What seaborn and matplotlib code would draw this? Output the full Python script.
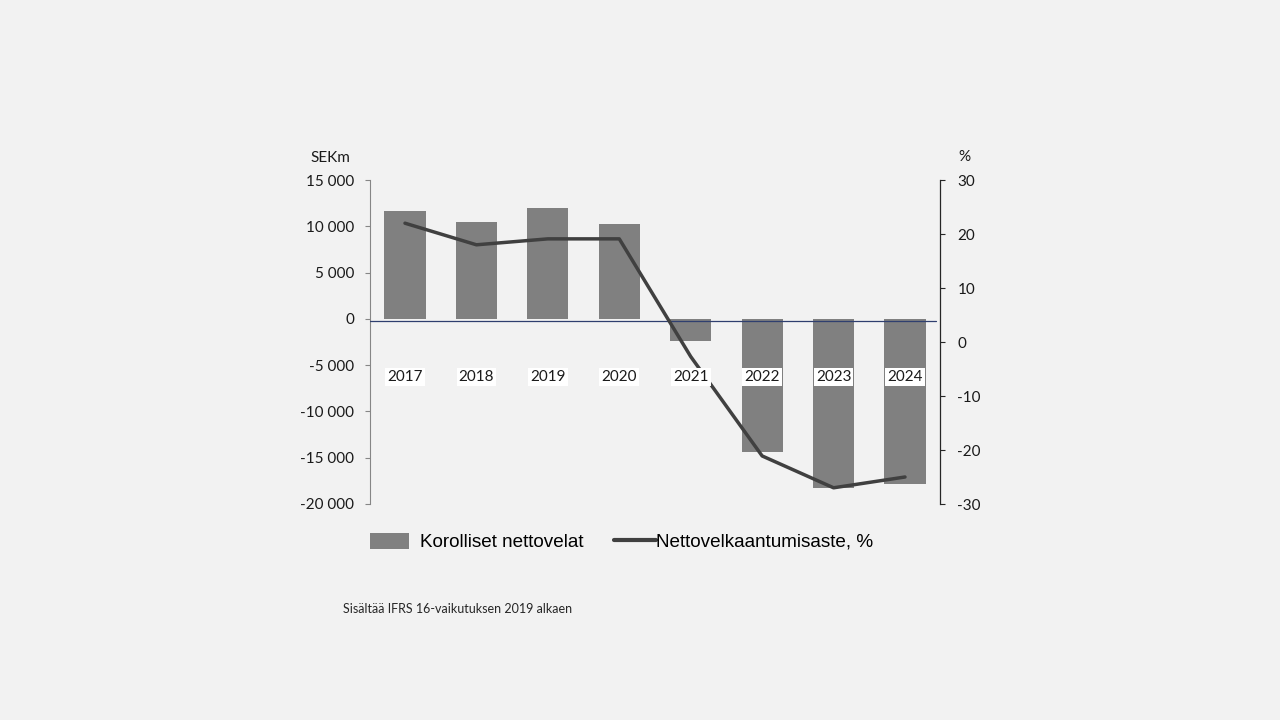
import numpy as np
import pandas as pd
import matplotlib
matplotlib.use("Agg")
import matplotlib.pyplot as plt
import seaborn as sns
from matplotlib.patches import Patch
from matplotlib.lines import Line2D
from matplotlib.ticker import FuncFormatter

# Data
vuodet = ["2017", "2018", "2019", "2020", "2021", "2022", "2023", "2024"]
nettovelat = [11600, 10500, 12000, 10300, -2400, -14400, -18300, -17800]   # SEKm
velkaantumisaste = [22.0, 18.0, 19.1, 19.1, -2.7, -21.1, -27.0, -25.0]     # %

df = pd.DataFrame({"vuosi": vuodet, "velat": nettovelat, "aste": velkaantumisaste})
df["pos"] = np.arange(len(df))

sns.set_style("white")
plt.rcParams["font.family"] = ["Lato", "DejaVu Sans"]
plt.rcParams["axes.unicode_minus"] = False

tausta = "#f2f2f2"
fig = plt.figure(figsize=(12.8, 7.2), dpi=100, facecolor=tausta)
ax = fig.add_axes([370 / 1280, 1 - 504 / 720, 570 / 1280, 324 / 720])
ax.set_facecolor(tausta)

sns.barplot(data=df, x="vuosi", y="velat", color="#808080", saturation=1,
            width=0.575, ax=ax, zorder=2, edgecolor="none", linewidth=0)
ax.set_xlim(-0.49, 7.49)
ax.set_ylim(-20000, 15000)
ax.set_yticks(np.arange(-20000, 15001, 5000))
ax.yaxis.set_major_formatter(FuncFormatter(lambda v, p: f"{int(v):,}".replace(",", " ")))
ax.set_xticks([])
ax.set_xlabel("")
ax.set_ylabel("")
ax.tick_params(axis="y", direction="out", length=3.6, width=0.8, color="#868686",
               labelsize=11, pad=8, left=True, labelcolor="#1a1a1a")
for s in ["top", "right", "bottom"]:
    ax.spines[s].set_visible(False)
ax.spines["left"].set_color("#868686")
ax.spines["left"].set_linewidth(0.8)

# thin axis line just below zero
ax.axhline(-250, xmax=0.993, color="#2f3f6f", lw=0.9, zorder=3)

ax2 = ax.twinx()
sns.lineplot(data=df, x="pos", y="aste", color="#404040", lw=2.5, ax=ax2, zorder=4)
ax2.set_ylim(-30, 30)
ax2.set_yticks(np.arange(-30, 31, 10))
ax2.set_xlim(-0.49, 7.49)
ax2.set_xlabel("")
ax2.set_ylabel("")
ax2.tick_params(axis="y", direction="out", length=3.6, width=0.8, color="#262626",
                labelsize=11, pad=9, right=True, labelcolor="#1a1a1a")
for s in ["top", "left", "bottom"]:
    ax2.spines[s].set_visible(False)
ax2.spines["right"].set_color("#262626")
ax2.spines["right"].set_linewidth(0.9)

# year labels in white boxes, over the bars and the line
for i, v in enumerate(vuodet):
    ax2.text(i, -6300, v, transform=ax.transData, ha="center", va="center",
             fontsize=11, zorder=10, color="#1a1a1a",
             bbox=dict(facecolor="white", edgecolor="none", pad=1.5))

fig.text(310 / 1280, 1 - 158 / 720, "SEKm", fontsize=11, va="center", color="#1a1a1a")
fig.text(964 / 1280, 1 - 157 / 720, "%", fontsize=11, va="center", ha="center", color="#1a1a1a")

# legend, two parts
fontti = {"family": "Liberation Sans", "size": 13.6}
fig.legend([Patch(facecolor="#808080", edgecolor="none")], ["Korolliset nettovelat"],
           loc="center left", bbox_to_anchor=(370 / 1280, 1 - 542 / 720),
           frameon=False, prop=fontti, handlelength=2.05, handleheight=0.9,
           handletextpad=0.6, borderpad=0, borderaxespad=0, labelcolor="black")
fig.legend([Line2D([0], [0], color="#404040", lw=3)], ["Nettovelkaantumisaste, %"],
           loc="center left", bbox_to_anchor=(614 / 1280, 1 - 542 / 720),
           frameon=False, prop=fontti, handlelength=2.2, handletextpad=0.05,
           borderpad=0, borderaxespad=0, labelcolor="black")

fig.text(343 / 1280, 1 - 609 / 720, "Sisältää IFRS 16-vaikutuksen 2019 alkaen",
         fontsize=9, va="center", color="#262626")

fig.savefig("out.png", dpi=100, facecolor=tausta)
